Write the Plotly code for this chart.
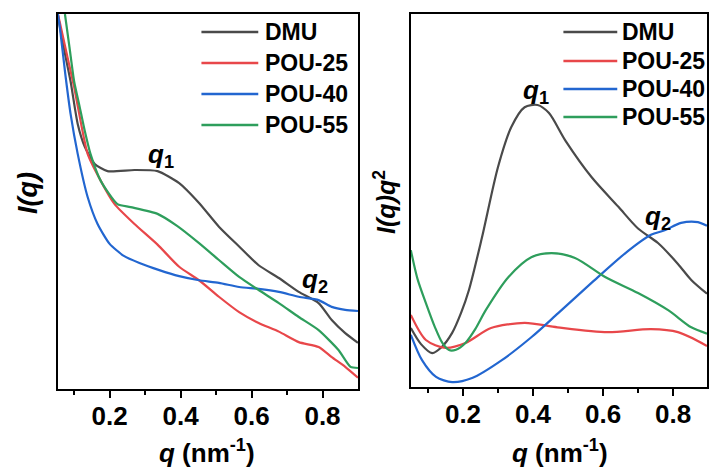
import plotly.graph_objects as go

# ---------------- data (arbitrary intensity units) ----------------
series_names = ["DMU", "POU-25", "POU-40", "POU-55"]
series_colors = ["#4a4a4a", "#e8474a", "#2266d0", "#2e9e5c"]

# Left panel: I(q)
L_dmu_q = [0.054, 0.059, 0.075, 0.09, 0.11, 0.13, 0.158, 0.194, 0.27, 0.335, 0.396, 0.452, 0.508, 0.565, 0.62, 0.677, 0.733, 0.789, 0.826, 0.864, 0.9]
L_dmu_i = [100, 97, 89, 82, 70.7, 64.6, 60, 58.1, 58.4, 58.1, 54.9, 49.6, 43.3, 38, 33, 29.6, 25.9, 22.9, 18.4, 14.9, 12.3]

L_p25_q = [0.054, 0.059, 0.08, 0.1, 0.12, 0.138, 0.175, 0.214, 0.27, 0.335, 0.396, 0.452, 0.508, 0.565, 0.62, 0.677, 0.733, 0.789, 0.826, 0.864, 0.9]
L_p25_i = [100, 98, 89, 80.5, 70.5, 62.7, 55.5, 49.3, 44, 38.5, 32.6, 29, 24.6, 20.5, 17.6, 15.3, 12.5, 11.2, 8.5, 5.9, 3.0]

L_p40_q = [0.054, 0.059, 0.075, 0.09, 0.11, 0.138, 0.166, 0.2, 0.24, 0.284, 0.34, 0.396, 0.452, 0.508, 0.565, 0.62, 0.677, 0.733, 0.789, 0.826, 0.864, 0.9]
L_p40_i = [100, 97, 84, 73.3, 62.7, 51.2, 44, 38.7, 35.5, 33.6, 31.7, 30.1, 29, 28.3, 27.2, 26.7, 25.9, 24.6, 23.7, 21.9, 21.1, 20.8]

L_p55_q = [0.074, 0.087, 0.1, 0.115, 0.13, 0.146, 0.175, 0.222, 0.259, 0.335, 0.39, 0.452, 0.508, 0.565, 0.62, 0.677, 0.733, 0.789, 0.845, 0.879, 0.9]
L_p55_i = [100, 91, 82, 75.5, 68.8, 62.7, 55.5, 49.3, 48.5, 46.7, 43.5, 38.9, 34.4, 29.9, 26.4, 22.9, 19.2, 15.7, 10.4, 5.9, 5.6]

# Right panel: I(q) q^2
R_dmu_q = [0.051, 0.08, 0.112, 0.14, 0.169, 0.195, 0.217, 0.254, 0.3, 0.338, 0.376, 0.413, 0.445, 0.493, 0.567, 0.644, 0.7, 0.757, 0.814, 0.852, 0.897]
R_dmu_v = [15.8, 11.5, 9.1, 10.8, 14.5, 20, 26, 40, 59, 69.7, 75, 75.6, 73.5, 66, 56.3, 48.3, 42.5, 38.6, 33, 28.7, 25]

R_p25_q = [0.051, 0.094, 0.15, 0.207, 0.28, 0.376, 0.47, 0.613, 0.737, 0.814, 0.897]
R_p25_v = [19.3, 12.6, 10.5, 11.8, 15.8, 17.2, 16, 14.7, 15.5, 14.7, 11]

R_p40_q = [0.051, 0.083, 0.123, 0.169, 0.226, 0.311, 0.396, 0.472, 0.567, 0.664, 0.737, 0.776, 0.823, 0.871, 0.897]
R_p40_v = [14, 7.2, 2.7, 1.3, 2.4, 7.2, 13.4, 19.8, 27.9, 35.9, 40.8, 42, 44, 44.2, 43.2]

R_p55_q = [0.051, 0.07, 0.094, 0.12, 0.141, 0.16, 0.18, 0.207, 0.235, 0.265, 0.33, 0.395, 0.453, 0.52, 0.606, 0.7, 0.786, 0.852, 0.897]
R_p55_v = [36.7, 29, 22.5, 16, 11.8, 9.9, 10, 11.8, 15.5, 20.6, 29.5, 34.8, 35.9, 34.6, 29.5, 25.2, 20.6, 16, 14.3]

tick_vals = [0.2, 0.4, 0.6, 0.8]
tick_text = ["0.2", "0.4", "0.6", "0.8"]
minor_vals = [0.1, 0.3, 0.5, 0.7]

# ---------------- figure ----------------
W, H = 709, 468
FONT = "Liberation Sans, Arial, sans-serif"

fig = go.Figure()

left = [(L_dmu_q, L_dmu_i), (L_p25_q, L_p25_i), (L_p40_q, L_p40_i), (L_p55_q, L_p55_i)]
right = [(R_dmu_q, R_dmu_v), (R_p25_q, R_p25_v), (R_p40_q, R_p40_v), (R_p55_q, R_p55_v)]

for (qx, iy), name, col in zip(left, series_names, series_colors):
    fig.add_trace(go.Scatter(x=qx, y=iy, mode="lines", name=name, showlegend=False,
                             line=dict(color=col, width=2.2, shape="spline", smoothing=0.6),
                             xaxis="x", yaxis="y"))
for (qx, iy), name, col in zip(right, series_names, series_colors):
    fig.add_trace(go.Scatter(x=qx, y=iy, mode="lines", name=name, showlegend=False,
                             line=dict(color=col, width=2.2, shape="spline", smoothing=0.8),
                             xaxis="x2", yaxis="y2"))

def px_x(p):
    return p / W

def px_y(p):
    return 1 - p / H

axis_common = dict(
    showgrid=False, zeroline=False, showline=True, linecolor="black", linewidth=2,
    mirror=True,
)
xcommon = dict(
    axis_common,
    tickmode="array", tickvals=tick_vals, ticktext=tick_text,
    ticks="outside", ticklen=7, tickwidth=2, tickcolor="black",
    ticklabelstandoff=-4,
    tickfont=dict(family=FONT, size=26, color="black", weight="bold"),
    minor=dict(tickvals=minor_vals, ticks="outside", ticklen=4, tickwidth=2, tickcolor="black"),
)
ycommon = dict(axis_common, showticklabels=False, ticks="", range=[0, 100])

fig.update_layout(
    width=W, height=H, margin=dict(l=0, r=0, t=0, b=0),
    paper_bgcolor="white", plot_bgcolor="white",
    xaxis=dict(xcommon, domain=[px_x(58), px_x(359)], range=[0.054, 0.9], anchor="y"),
    yaxis=dict(ycommon, domain=[px_y(389), px_y(14)], anchor="x"),
    xaxis2=dict(xcommon, domain=[px_x(412), 1.0], range=[0.051, 0.897], anchor="y2"),
    yaxis2=dict(ycommon, domain=[px_y(387), px_y(14)], anchor="x2"),
    showlegend=False,
)

annots = []
shapes = []

# legends (drawn manually)
leg_left = dict(x0=202, x1=259, tx=264, ys=[32, 63, 94, 125])
leg_right = dict(x0=565, x1=619, tx=622, ys=[32, 61, 89, 117])
for leg in (leg_left, leg_right):
    for name, col, yy in zip(series_names, series_colors, leg["ys"]):
        shapes.append(dict(type="line", xref="paper", yref="paper",
                           x0=px_x(leg["x0"]), x1=px_x(leg["x1"]), y0=px_y(yy), y1=px_y(yy),
                           line=dict(color=col, width=2.5)))
        annots.append(dict(xref="paper", yref="paper", x=px_x(leg["tx"]), y=px_y(yy),
                           xanchor="left", yanchor="middle", showarrow=False,
                           text="<b>%s</b>" % name,
                           font=dict(family=FONT, size=23, color="black")))

# peak labels
for (xx, yy, t) in [(161, 156, "<b><i>q</i><sub>1</sub></b>"), (316, 280, "<b><i>q</i><sub>2</sub></b>"),
                    (538, 92, "<b><i>q</i><sub>1</sub></b>"), (660, 217, "<b><i>q</i><sub>2</sub></b>")]:
    annots.append(dict(xref="paper", yref="paper", x=px_x(xx), y=px_y(yy), xanchor="center", yanchor="middle",
                       showarrow=False, text=t, font=dict(family=FONT, size=26, color="black")))

# axis titles
for cx in (208, 562):
    annots.append(dict(xref="paper", yref="paper", x=px_x(cx), y=px_y(451), xanchor="center", yanchor="middle",
                       showarrow=False, text="<b><i>q</i> (nm<sup>-1</sup>)</b>",
                       font=dict(family=FONT, size=26, color="black")))
annots.append(dict(xref="paper", yref="paper", x=px_x(28), y=px_y(193), xanchor="center", yanchor="middle",
                   showarrow=False, textangle=-90, text="<b><i>I(q)</i></b>",
                   font=dict(family=FONT, size=27, color="black")))
annots.append(dict(xref="paper", yref="paper", x=px_x(386), y=px_y(202), xanchor="center", yanchor="middle",
                   showarrow=False, textangle=-90, text="<b><i>I(q)q</i><sup>2</sup></b>",
                   font=dict(family=FONT, size=25, color="black")))

fig.update_layout(annotations=annots, shapes=shapes)

fig.write_html("out.html")
